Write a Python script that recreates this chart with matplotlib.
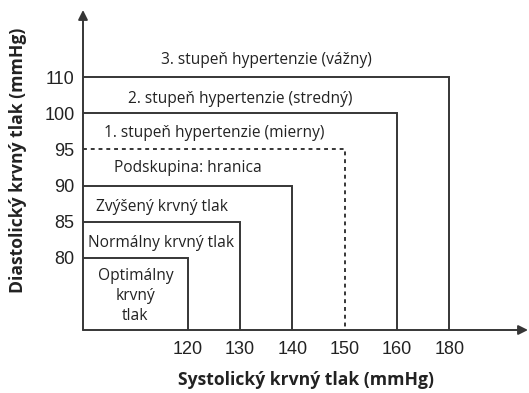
import matplotlib
matplotlib.use("Agg")
import matplotlib.pyplot as plt

# Data
categories = ["Optimálny\nkrvný\ntlak", "Normálny krvný tlak", "Zvýšený krvný tlak",
              "Podskupina: hranica", "1. stupeň hypertenzie (mierny)",
              "2. stupeň hypertenzie (stredný)", "3. stupeň hypertenzie (vážny)"]
systolic = [120, 130, 140, 140, 150, 160, 180]
diastolic = [80, 85, 90, 90, 95, 100, 110]
dashed = [False, False, False, False, True, False, False]
x_ticks = [120, 130, 140, 150, 160, 180]
y_ticks = [80, 85, 90, 95, 100, 110]

xpos = {v: i + 2 for i, v in enumerate(x_ticks)}
ypos = {v: i + 2 for i, v in enumerate(y_ticks)}

W, H = 529, 393
fig = plt.figure(figsize=(W / 100, H / 100), dpi=100)
ax = fig.add_axes([83 / W, (H - 330) / H, 445 / W, 320 / H])
ax.set_xlim(0, 8.5)
ax.set_ylim(0, 8.86)
for s in ax.spines.values():
    s.set_visible(False)

lc = "#363636"
tc = "#222222"
txtfont = "Open Sans"
for cat, sx, dy, dsh in zip(categories, systolic, diastolic, dashed):
    x = xpos[sx]
    y = ypos[dy]
    if cat != "Podskupina: hranica":
        ax.plot([0, x, x], [y, y, 0], color=lc, lw=1.4,
                ls=(0, (2, 2)) if dsh else "-", solid_joinstyle="miter")

# label placements (center of each band)
label_y = [0.94, 2.41, 3.41, 4.49, 5.46, 6.4, 7.48]
label_x = [xpos[120] / 2, xpos[130] / 2, xpos[130] / 2, xpos[140] / 2,
           xpos[150] / 2, xpos[160] / 2, xpos[180] / 2]
for cat, lx, ly in zip(categories, label_x, label_y):
    ax.text(lx, ly, cat, ha="center", va="center", fontsize=11.2,
            family=txtfont, color=tc, linespacing=1.3)

# axes arrows
ax.annotate("", xy=(8.5, 0), xytext=(0, 0),
            arrowprops=dict(arrowstyle="-|>", color=lc, lw=1.4,
                            mutation_scale=14, shrinkA=0, shrinkB=0),
            annotation_clip=False)
ax.annotate("", xy=(0, 8.86), xytext=(0, 0),
            arrowprops=dict(arrowstyle="-|>", color=lc, lw=1.4,
                            mutation_scale=14, shrinkA=0, shrinkB=0),
            annotation_clip=False)

ax.set_xticks([xpos[v] for v in x_ticks])
ax.set_xticklabels([str(v) for v in x_ticks])
ax.set_yticks([ypos[v] for v in y_ticks])
ax.set_yticklabels([str(v) for v in y_ticks])
ax.tick_params(length=0, labelsize=13, colors=tc)
ax.tick_params(axis="x", pad=8)
ax.tick_params(axis="y", pad=6)
for lab in ax.get_xticklabels() + ax.get_yticklabels():
    lab.set_family("Liberation Sans")

ax.set_xlabel("Systolický krvný tlak (mmHg)", fontsize=12.6, fontweight="bold",
              family=txtfont, color=tc)
ax.set_ylabel("Diastolický krvný tlak (mmHg)", fontsize=12.6, fontweight="bold",
              family=txtfont, color=tc)
ax.xaxis.set_label_coords(0.50, -0.128)
ax.yaxis.set_label_coords(-0.125, 0.53)

fig.savefig("out.png", dpi=100)
